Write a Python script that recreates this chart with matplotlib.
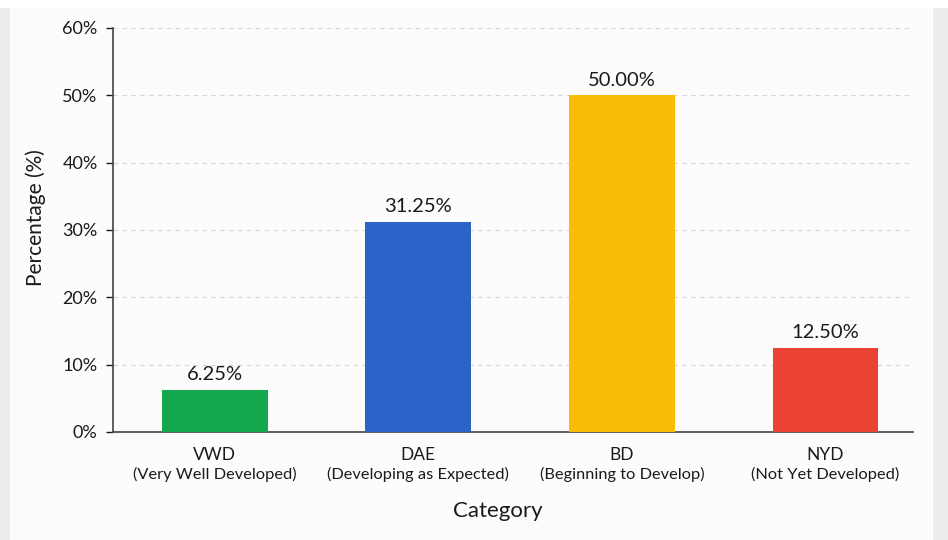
import matplotlib.pyplot as plt
from matplotlib.patches import Rectangle
from matplotlib.ticker import FuncFormatter

codes = ["VWD", "DAE", "BD", "NYD"]
names = ["(Very Well Developed)", "(Developing as Expected)",
         "(Beginning to Develop)", "(Not Yet Developed)"]
percent = [6.25, 31.25, 50.00, 12.50]
colors = ["#14a84e", "#2d63c8", "#fbbc05", "#ea4335"]

plt.rcParams['font.family'] = ['Lato', 'DejaVu Sans']

fig = plt.figure(figsize=(9.48, 5.40), dpi=100, facecolor="#ececec")
# off-white card behind the chart
fig.patches.append(Rectangle((10 / 948, 0), (933 - 10) / 948, 1 - 8 / 540,
                             transform=fig.transFigure, facecolor="#fcfcfc",
                             edgecolor="none", zorder=-2))
fig.patches.append(Rectangle((0, 1 - 8 / 540), 1, 8 / 540,
                             transform=fig.transFigure, facecolor="white",
                             edgecolor="none", zorder=-2))

ax = fig.add_axes([113 / 948, 1 - 432 / 540, (913 - 113) / 948, (432 - 28) / 540])
ax.set_zorder(1)
ax.set_facecolor("none")

txt = "#1a1a1a"
x = range(len(codes))
bars = ax.bar(x, percent, width=0.52, color=colors, zorder=3)
for b, v in zip(bars, percent):
    ax.text(b.get_x() + b.get_width() / 2, v + 1.0, f"{v:.2f}%",
            ha="center", va="bottom", fontsize=14.5, color=txt)

ax.set_ylim(0, 60)
ax.set_xlim(-0.5, 3.43)
ax.set_yticks(range(0, 61, 10))
ax.yaxis.set_major_formatter(FuncFormatter(lambda v, p: f"{v:.0f}%"))
ax.grid(axis="y", linestyle=(0, (4, 4)), color="#d6d6d6", linewidth=0.8, zorder=0)

ax.set_xticks(list(x))
ax.set_xticklabels(codes, fontsize=12.5, color=txt)
ax.tick_params(axis="x", length=0, pad=11)
ax.tick_params(axis="y", labelsize=13, colors=txt, length=5, width=1, pad=6)
for i, n in zip(x, names):
    ax.annotate(n, xy=(i, 0), xycoords=("data", "axes fraction"),
                xytext=(0, -25), textcoords="offset points",
                ha="center", va="top", fontsize=11.8, color=txt)

for s in ["top", "right"]:
    ax.spines[s].set_visible(False)
for s in ["left", "bottom"]:
    ax.spines[s].set_color("#444444")
    ax.spines[s].set_linewidth(1.2)

ax.set_ylabel("Percentage (%)", fontsize=15, color=txt)
ax.yaxis.set_label_coords(-0.084, 0.53)
ax.set_xlabel("Category", fontsize=16, color=txt, labelpad=27)
ax.xaxis.label.set_x(0.481)

fig.savefig("out.png", dpi=100, facecolor=fig.get_facecolor())
